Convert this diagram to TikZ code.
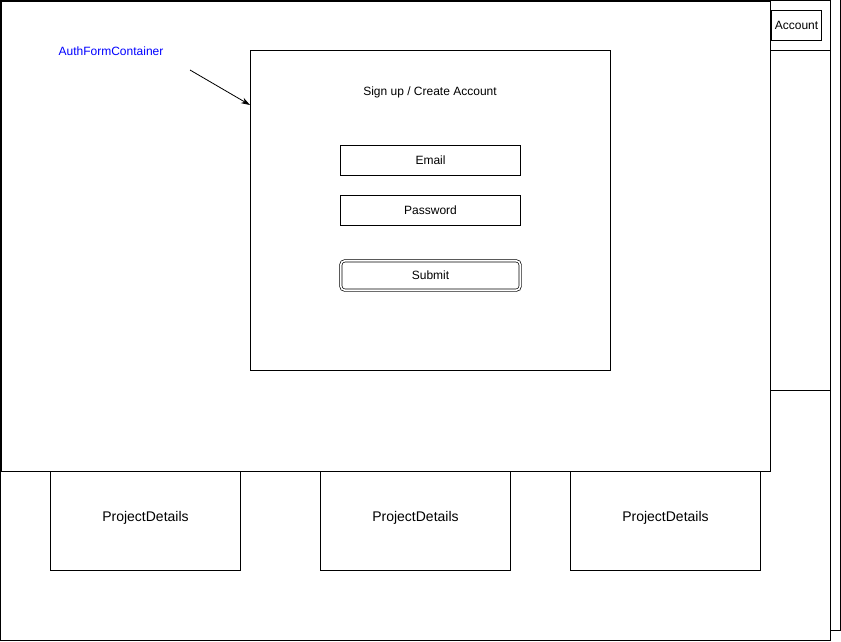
\documentclass[tikz,border=0pt]{standalone}
\usepackage{fontspec}
\setmainfont{Liberation Sans}
\usetikzlibrary{arrows.meta}
\begin{document}
\begin{tikzpicture}[x=1pt,y=-1pt,line width=1pt,
  box/.style={draw,fill=white,minimum width=180pt,minimum height=30pt,anchor=north west,inner sep=0pt,text depth=1pt,font=\fontsize{12}{14}\selectfont},
  pd/.style={draw,fill=white,minimum width=190pt,minimum height=100pt,anchor=north west,inner sep=0pt},
  pdt/.style={inner sep=0pt,font=\fontsize{14}{16}\selectfont},
  lbl/.style={inner sep=0pt,font=\fontsize{12}{14}\selectfont}]
\useasboundingbox (0,0) rectangle (841,641);
% back page
\draw (840,0) -- (840,630) -- (830,630);
% main page
\draw (0.5,0.5) rectangle (830,640);
\draw (770,50) -- (830,50);
\draw (770,390) -- (830,390);
\node[draw,minimum width=50pt,minimum height=30pt,anchor=north west,inner sep=0pt,text depth=1pt,font=\fontsize{12}{14}\selectfont] (acct) at (771,10) {Account};
% project details
\node[pd] (p1) at (50,470) {};
\node[pd] (p2) at (320,470) {};
\node[pd] (p3) at (570,470) {};
\node[pdt] (t1) at ([yshift=3pt]p1.center) {ProjectDetails};
\node[pdt] (t2) at ([yshift=3pt]p2.center) {ProjectDetails};
\node[pdt] (t3) at ([yshift=3pt]p3.center) {ProjectDetails};
% auth form container
\node[draw,fill=white,minimum width=769.5pt,minimum height=470pt,anchor=north west,inner sep=0pt] (afc) at (0.5,0.5) {};
\node[draw,fill=white,minimum width=360pt,minimum height=320pt,anchor=north west,inner sep=0pt] (form) at (250,50) {};
\node[lbl] (title) at (430,92) {Sign up / Create Account};
\node[box] (email) at (340,145) {Email};
\node[box] (pw) at (340,195) {Password};
\node[box,draw=none,fill=none] (sub) at (340,260) {Submit};
\draw[rounded corners=4pt,double,double distance=1.6pt,line width=0.7pt] ([shift={(0.8,0.8)}]sub.north west) rectangle ([shift={(-0.8,-0.8)}]sub.south east);
\node[lbl,text=blue] (lab) at (111,51) {AuthFormContainer};
\coordinate (a0) at (190,70);
\draw[-{Stealth[length=9pt,width=6pt]},line width=0.8pt] (a0) -- (form.north west |- 0,105);
\end{tikzpicture}
\end{document}
